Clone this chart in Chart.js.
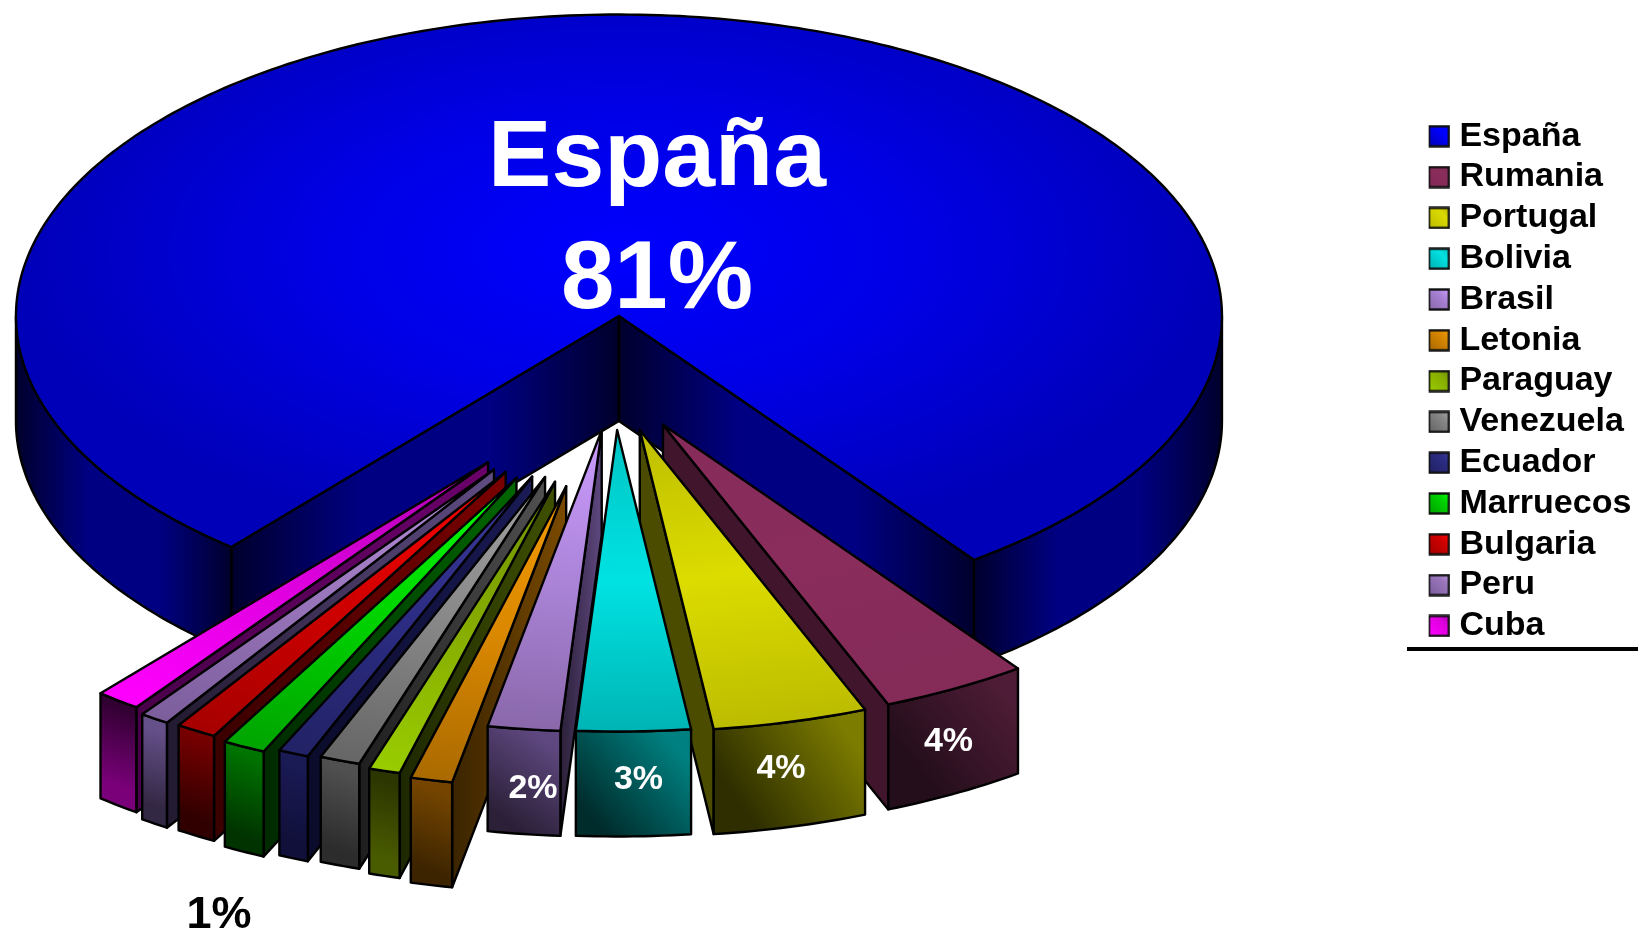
<!DOCTYPE html>
<html>
<head>
<meta charset="utf-8">
<style>html,body{margin:0;padding:0;background:#fff}canvas{display:block}</style>
<script src="https://cdn.jsdelivr.net/npm/chart.js@4/dist/chart.umd.js"></script>
</head>
<body>
<canvas id="c" width="1638" height="931"></canvas>
<script>
const countries = ['España','Rumania','Portugal','Bolivia','Brasil','Letonia','Paraguay','Venezuela','Ecuador','Marruecos','Bulgaria','Peru','Cuba'];
const shares = [81,4.03,4.25,3.13,1.99,1.15,0.86,1.11,0.84,1.18,1.12,0.81,1.23];
const pctLabels = ['81%','4%','4%','3%','2%','1%'];

const sliceTip = ['#0000ff','#852b5a','#bdbd00','#00c4c4','#cc9cff','#f49a00','#6f9000','#a2a2a2','#3c3c9c','#00ff00','#ff0000','#b890dc','#b000b0'];
const sliceMid = ['#0000e4','#8a2d5c','#dcdc00','#00e2e2','#ab84d8','#da8800','#86ac00','#888888','#2c2c84','#00d400','#d00000','#9a76bc','#dc00dc'];
const sliceRim = ['#0000b8','#842b58','#bcbc00','#00b4b4','#8a68aa','#aa6a00','#99cc00','#666666','#222266','#00a400','#a60000','#7c5e9c','#ff00ff'];
const wallDark = ['#00002c','#240e1b','#2e2e00','#002c2c','#2b2038','#3c2400','#4a5c00','#2c2c2c','#10103a','#003300','#300000','#332844','#7a007a'];
const wallLight = ['#000082','#4e1c36','#7c7c00','#008080','#5f4880','#754500','#2c3600','#505050','#1a1a55','#007400','#760000','#66508a','#300030'];
const sideNear = ['#00002c','#41162c','#4c4c00','#003333','#5f4880','#7a4a00','#3f5000','#505050','#1a1a55','#006600','#7a0000','#5f4c82','#6a006a'];
const sideFar = ['#00002c','#41162c','#4c4c00','#003333','#2b2038','#3a2400','#1e2800','#1e1e1e','#0b0b2b','#002a00','#3a0000','#221a30','#4a004a'];

const explode = [130,100,101,98,99,216,210,204,208,217,212,214,206];
const paintOrder = [0,12,11,10,9,8,7,6,5,4,1,2,3];

const PIE = {cx:614.5, cy:381, r:603, tilt:0.5, depth:105, rotation:-140};
const TEXTS = [
  {t:0,x:657,y:186,size:95,color:'#fff',extra:'España'},
  {t:0,x:657,y:308,size:96,color:'#fff'},
  {t:1,x:948.5,y:751,size:34,color:'#fff'},
  {t:2,x:781,y:778,size:34,color:'#fff'},
  {t:3,x:638.5,y:789,size:34,color:'#fff'},
  {t:4,x:533,y:798,size:34,color:'#fff'},
  {t:5,x:219,y:928,size:45,color:'#000'}
];
const FONT = '"Liberation Sans", Arial, sans-serif';
const total = shares.reduce((a,b)=>a+b,0);

function midAngle(i){
  let before = 0;
  for(let k=0;k<i;k++) before += shares[k];
  const start = (PIE.rotation-90)*Math.PI/180 + before/total*2*Math.PI;
  return start + shares[i]/total*Math.PI;
}
function faceFill(c){
  if(c.type!=='data'||!c.chart.chartArea) return sliceMid[c.dataIndex||0];
  const i=c.dataIndex, a=c.chart.chartArea, x=(a.left+a.right)/2, y=(a.top+a.bottom)/2, g0=c.chart.ctx;
  let g;
  if(i===0){
    g=g0.createRadialGradient(x,y-130,0,x,y-130,PIE.r);
  }else{
    const m=midAngle(i);
    g=g0.createLinearGradient(x,y,x+Math.cos(m)*PIE.r,y+Math.sin(m)*PIE.r);
  }
  g.addColorStop(0,sliceTip[i]);g.addColorStop(0.5,sliceMid[i]);g.addColorStop(1,sliceRim[i]);
  return g;
}
function swatch(i){
  const s=document.createElement('canvas');s.width=23;s.height=23;
  const x=s.getContext('2d');
  const g=x.createLinearGradient(2,21,21,2);
  g.addColorStop(0,sliceRim[i]);g.addColorStop(0.7,i===0?'#0000ff':sliceMid[i]);
  g.addColorStop(1,i===0?'#0000ff':sliceTip[i]);
  x.fillStyle=g;x.fillRect(2,2,19,19);
  x.strokeStyle='#111';x.lineWidth=2.4;x.strokeRect(1.5,1.5,20,20);
  return s;
}
function pagePoint(i,ang,r,down,arc){
  const m=(arc.startAngle+arc.endAngle)/2, e=explode[i];
  return [PIE.cx+Math.cos(m)*e+r*Math.cos(ang), PIE.cy+(Math.sin(m)*e+r*Math.sin(ang))*PIE.tilt+down];
}
function polygon(ctx,pts,fill){
  ctx.beginPath();
  pts.forEach((p,k)=>k?ctx.lineTo(p[0],p[1]):ctx.moveTo(p[0],p[1]));
  ctx.closePath();
  ctx.fillStyle=fill;ctx.fill();
  ctx.strokeStyle='#000';ctx.lineWidth=2.4;ctx.lineJoin='round';ctx.stroke();
}
function hGrad(ctx,x0,x1,stops){
  const g=ctx.createLinearGradient(x0,0,x1===x0?x0+1:x1,0);
  stops.forEach((c,k)=>g.addColorStop(k/(stops.length-1),c));
  return g;
}
function drawSlice(ctx,arc,i){
  const D=PIE.depth, R=arc.outerRadius, s=arc.startAngle, t=arc.endAngle;
  const near=pagePoint(i,0,0,0,arc), nearD=pagePoint(i,0,0,D,arc);
  [[s,Math.cos(s)<0],[t,Math.cos(t)>0]].forEach(([a,facing])=>{
    if(!facing) return;
    const far=pagePoint(i,a,R,0,arc), farD=pagePoint(i,a,R,D,arc);
    const fill = i===0 ? hGrad(ctx,near[0],far[0],[wallDark[0],wallLight[0],wallLight[0],wallDark[0]])
                       : hGrad(ctx,near[0],far[0],[sideNear[i],sideFar[i]]);
    polygon(ctx,[near,far,farD,nearD],fill);
  });
  for(let k=-1;k<=2;k++){
    const a0=Math.max(s,2*Math.PI*k), a1=Math.min(t,2*Math.PI*k+Math.PI);
    if(a1<=a0) continue;
    const top=[],bot=[],n=Math.max(4,Math.ceil((a1-a0)*60));
    for(let j=0;j<=n;j++){
      const a=a0+(a1-a0)*j/n;
      top.push(pagePoint(i,a,R,0,arc));bot.unshift(pagePoint(i,a,R,D,arc));
    }
    const xs=top.map(p=>p[0]), ys=top.map(p=>p[1]), lo=Math.min(...xs), hi=Math.max(...xs), up=Math.min(...ys);
    let fill;
    if(i===0){
      fill=hGrad(ctx,lo,hi,[wallDark[0],wallLight[0],wallLight[0],wallDark[0]]);
    }else{
      fill=ctx.createLinearGradient(lo,up+D,hi,up);
      fill.addColorStop(0.15,wallDark[i]);fill.addColorStop(0.85,wallLight[i]);
    }
    polygon(ctx,top.concat(bot),fill);
  }
  const m=(s+t)/2, e=explode[i];
  ctx.save();
  ctx.translate(PIE.cx,PIE.cy);
  ctx.scale(1,PIE.tilt);
  ctx.translate(Math.cos(m)*e,Math.sin(m)*e);
  ctx.translate(-arc.x,-arc.y);
  arc.draw(ctx);
  ctx.restore();
  ctx.beginPath();
  ctx.moveTo(near[0],near[1]);
  const n=Math.max(4,Math.ceil((t-s)*60));
  for(let j=0;j<=n;j++){
    const p=pagePoint(i,s+(t-s)*j/n,R,0,arc);
    ctx.lineTo(p[0],p[1]);
  }
  ctx.closePath();
  ctx.strokeStyle='#000';ctx.lineWidth=2.4;ctx.lineJoin='round';ctx.stroke();
}
const pie3d = {
  id:'pie3d',
  afterLayout(chart){
    const l=chart.legend;
    const h=l.bottom-l.top, w=l.right-l.left;
    l.left=1428.6;l.right=l.left+w;l.top=112.5;l.bottom=l.top+Math.max(h,560);
  },
  beforeDatasetsDraw(chart){
    const arcs=chart.getDatasetMeta(0).data;
    paintOrder.forEach(i=>drawSlice(chart.ctx,arcs[i],i));
    return false;
  },
  afterDraw(chart){
    const ctx=chart.ctx;
    ctx.save();
    ctx.textAlign='center';ctx.textBaseline='alphabetic';
    TEXTS.forEach(o=>{
      ctx.font='bold '+o.size+'px '+FONT;
      ctx.fillStyle=o.color;
      ctx.fillText(o.extra||pctLabels[o.t],o.x,o.y);
    });
    ctx.fillStyle='#000';
    ctx.fillRect(1407,647,231,4);
    ctx.restore();
  }
};
new Chart(document.getElementById('c'),{
  type:'pie',
  data:{labels:countries,datasets:[{
    data:shares,
    radius:PIE.r,
    backgroundColor:faceFill,
    borderWidth:0,
    clip:false
  }]},
  options:{
    responsive:false,
    animation:false,
    events:[],
    rotation:PIE.rotation,
    layout:{padding:0},
    plugins:{
      tooltip:{enabled:false},
      legend:{
        display:true,position:'right',align:'start',
        labels:{
          font:{family:FONT,size:34,weight:'bold'},
          color:'#000',
          usePointStyle:true,
          pointStyleWidth:7,
          padding:6.8,
          generateLabels:()=>countries.map((c,i)=>({text:c,fillStyle:sliceMid[i],strokeStyle:'#000',lineWidth:0,hidden:false,index:i,pointStyle:swatch(i)}))
        }
      }
    }
  },
  plugins:[pie3d]
});
</script>
</body>
</html>
